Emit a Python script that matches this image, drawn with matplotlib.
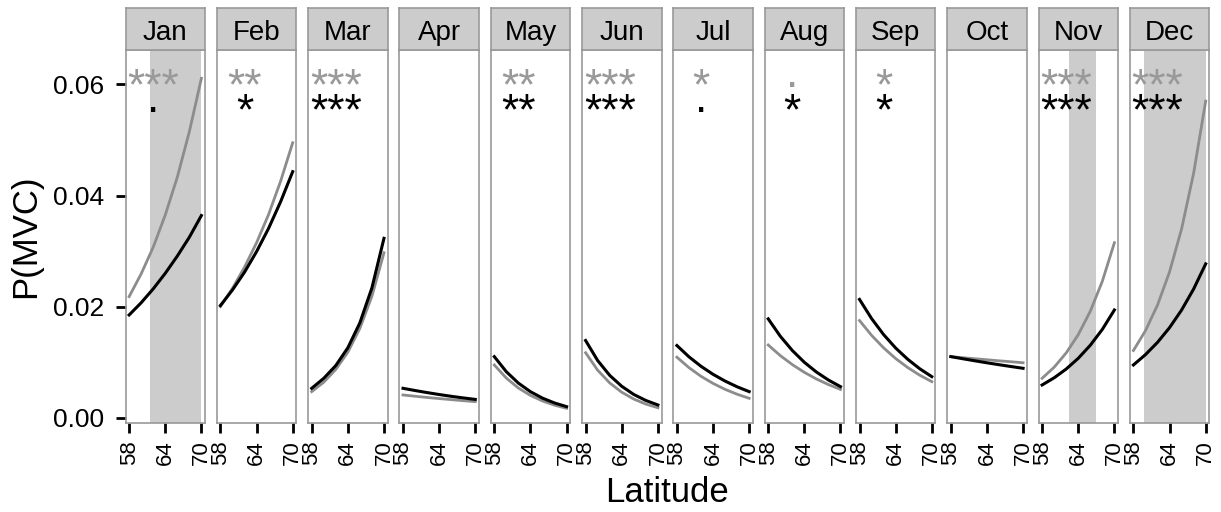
import matplotlib
matplotlib.use("Agg")
import matplotlib.pyplot as plt
from matplotlib.transforms import offset_copy

plt.rcParams['font.family'] = ['Liberation Sans', 'DejaVu Sans']

months = ['Jan', 'Feb', 'Mar', 'Apr', 'May', 'Jun',
          'Jul', 'Aug', 'Sep', 'Oct', 'Nov', 'Dec']
lat = [58, 60, 62, 64, 66, 68, 70]

# grey curve per month
grey_p = [
    [0.0218, 0.0259, 0.0307, 0.0365, 0.0433, 0.0515, 0.0611],
    [0.0200, 0.0233, 0.0271, 0.0315, 0.0366, 0.0426, 0.0495],
    [0.0047, 0.0064, 0.0087, 0.0118, 0.0161, 0.0219, 0.0297],
    [0.0041, 0.00387, 0.00365, 0.00345, 0.00326, 0.00307, 0.0029],
    [0.0095, 0.00713, 0.00535, 0.00402, 0.00302, 0.00226, 0.0017],
    [0.0117, 0.00856, 0.00627, 0.00459, 0.00336, 0.00246, 0.0018],
    [0.0109, 0.00902, 0.00746, 0.00618, 0.00511, 0.00423, 0.0035],
    [0.0131, 0.01119, 0.00957, 0.00817, 0.00698, 0.00597, 0.0051],
    [0.0175, 0.01484, 0.01258, 0.01066, 0.00904, 0.00766, 0.0065],
    [0.0110, 0.01081, 0.01062, 0.01044, 0.01025, 0.01008, 0.0099],
    [0.0071, 0.0091, 0.01167, 0.01496, 0.01917, 0.02458, 0.0315],
    [0.0121, 0.01567, 0.02028, 0.02626, 0.0340, 0.04402, 0.0570],
]
# black curve per month
black_p = [
    [0.0185, 0.0207, 0.0232, 0.0260, 0.0291, 0.0325, 0.0364],
    [0.0202, 0.0230, 0.0262, 0.0299, 0.0341, 0.0389, 0.0443],
    [0.0053, 0.0071, 0.0094, 0.0126, 0.0171, 0.0234, 0.0323],
    [0.0053, 0.0049, 0.00453, 0.00418, 0.00386, 0.00357, 0.0033],
    [0.0110, 0.00828, 0.00623, 0.00469, 0.00353, 0.00266, 0.0020],
    [0.0139, 0.0103, 0.00763, 0.00566, 0.00419, 0.00311, 0.0023],
    [0.0130, 0.01097, 0.00926, 0.00782, 0.00660, 0.00557, 0.0047],
    [0.0178, 0.01468, 0.01211, 0.00998, 0.00823, 0.00679, 0.0056],
    [0.0213, 0.01786, 0.01497, 0.01255, 0.01053, 0.00882, 0.0074],
    [0.0110, 0.01062, 0.01025, 0.00989, 0.00955, 0.00922, 0.0089],
    [0.0059, 0.00719, 0.00877, 0.0107, 0.01305, 0.01591, 0.0194],
    [0.0095, 0.01136, 0.01357, 0.01622, 0.01939, 0.02318, 0.0277],
]

grey_sig = ['***', '**', '***', '', '**', '***', '*', '.', '*', '', '***', '***']
black_sig = ['.', '*', '***', '', '**', '***', '.', '*', '*', '', '***', '***']

# shaded latitude band per month (None = no band)
shade = [(61.4, 70.0), None, None, None, None, None,
         None, None, None, None, (62.5, 66.9), (59.75, 70.0)]

W, H = 1221, 512
fig = plt.figure(figsize=(W / 100, H / 100), dpi=100)

edge = '#999999'
for i, m in enumerate(months):
    x0 = 125.5 + i * 91.3
    ax = fig.add_axes([x0 / W, (H - 423.3) / H, 79.5 / W, (423.3 - 50) / H])
    ax.set_xlim(57.4, 70.6)
    ax.set_ylim(-0.001, 0.0662)
    if shade[i]:
        ax.axvspan(shade[i][0], shade[i][1], color='#cccccc', lw=0, zorder=0)
    ax.plot(lat, grey_p[i], color='#8c8c8c', lw=2.0, zorder=2)
    ax.plot(lat, black_p[i], color='black', lw=2.2, zorder=3)

    for lab, yv, col in [(grey_sig[i], 0.0593, '#999999'),
                         (black_sig[i], 0.0549, 'black')]:
        if not lab:
            continue
        tr = ax.transData
        if lab == '.':
            tr = offset_copy(ax.transData, fig=fig, y=9, units='points')
        ax.text(62, yv, lab, ha='center', va='center', fontsize=32,
                color=col, transform=tr, zorder=4)

    for s in ax.spines.values():
        s.set_color(edge)
        s.set_linewidth(1.2)
    ax.set_xticks([58, 64, 70])
    ax.tick_params(axis='x', length=7.5, width=2.0, color='black',
                   labelsize=16, pad=5, labelrotation=90)
    if i == 0:
        ax.set_yticks([0.0, 0.02, 0.04, 0.06])
        ax.set_yticklabels(['0.00', '0.02', '0.04', '0.06'])
        ax.tick_params(axis='y', length=7.5, width=2.0, color='black',
                       labelsize=19, pad=8)
    else:
        ax.set_yticks([])

    sax = fig.add_axes([x0 / W, (H - 50) / H, 79.5 / W, 42 / H])
    sax.set_facecolor('#cccccc')
    sax.set_xticks([])
    sax.set_yticks([])
    for s in sax.spines.values():
        s.set_color(edge)
        s.set_linewidth(1.2)
    sax.text(0.5, 0.24, m, ha='center', va='baseline', fontsize=20,
             transform=sax.transAxes)

fig.text(667 / W, 1 - 493 / H, 'Latitude', ha='center', va='center', fontsize=25)
fig.text(25.5 / W, 1 - 236 / H, 'P(MVC)', ha='center', va='center',
         rotation=90, fontsize=25)

fig.savefig('out.png', dpi=100)
